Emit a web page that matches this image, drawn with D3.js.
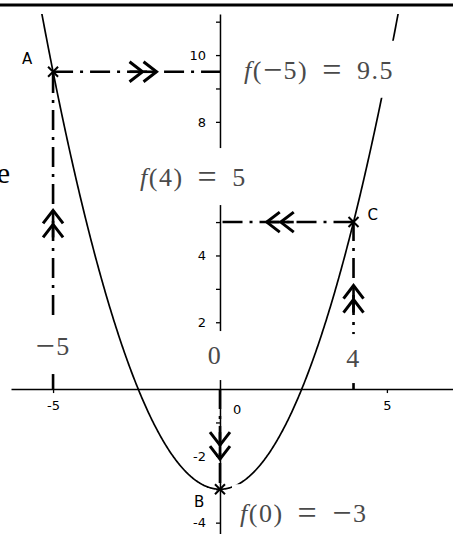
<!DOCTYPE html>
<html>
<head>
<meta charset="utf-8">
<script src="https://cdn.jsdelivr.net/npm/d3@7"></script>
<style>
  html, body { margin: 0; padding: 0; background: #fff; }
  svg { display: block; }
</style>
</head>
<body>
<svg id="chart" width="453" height="534"></svg>
<script>
// --- values ---
const pointNames = ["A", "B", "C"];
const pointX     = [-5, 0, 4];
const pointY     = [9.5, -3, 5];
const curveCoef  = [0.5, 0, -3];              // f(x) = a x² + b x + c
const xTickVals  = [-5, 5];
const yTickVals  = [-4, -3, -2, -1, 1, 2, 3, 4, 5, 6, 7, 8, 9, 10, 11];
const yTickLabels = [-4, -2, 2, 4, 8, 10];
const mathTexts  = ["f(−5) = 9.5", "f(4) = 5", "f(0) = −3", "−5", "0", "4"];

// --- layout ---
const W = 453, H = 534;
const plotLeft = 11, plotTop = 14;
const ink   = "#000";
const grey  = "#4a4a4a";
const sans  = "'DejaVu Sans', Verdana, sans-serif";
const serif = "'Liberation Serif', 'Times New Roman', serif";

const svg = d3.select("#chart");

const x = d3.scaleLinear().domain([-6.26, 6.98]).range([plotLeft, W]);
const y = d3.scaleLinear().domain([-4.34, 11.23]).range([H, plotTop]);

// frame line along the top
svg.append("line")
    .attr("x1", 0).attr("x2", W)
    .attr("y1", 5).attr("y2", 5)
    .attr("stroke", ink).attr("stroke-width", 3);

// cut-off word at the left edge
svg.append("text")
    .attr("x", 10).attr("y", 183)
    .attr("text-anchor", "end")
    .style("font-family", serif)
    .style("font-size", "30px")
    .style("fill", ink)
    .text("e");

svg.append("clipPath").attr("id", "plot-clip")
  .append("rect")
    .attr("x", plotLeft).attr("y", plotTop)
    .attr("width", W - plotLeft).attr("height", H - plotTop);

const plot = svg.append("g").attr("clip-path", "url(#plot-clip)");

// --- the parabola ---
const f = t => curveCoef[0] * t * t + curveCoef[1] * t + curveCoef[2];
const samples = d3.range(x.domain()[0], x.domain()[1] + 0.01, 0.02);

plot.append("path")
    .datum(samples)
    .attr("fill", "none")
    .attr("stroke", ink)
    .attr("stroke-width", 1.7)
    .attr("d", d3.line().x(d => x(d)).y(d => y(f(d))));

// --- dash-dot guides with double chevrons ---
const guides = plot.append("g");
const points = pointNames.map((n, i) => ({ name: n, x: pointX[i], y: pointY[i] }));

function chevrons(g, x1, y1, x2, y2) {
    const len = Math.hypot(x2 - x1, y2 - y1);
    if (len < 1) return;
    const ux = (x2 - x1) / len, uy = (y2 - y1) / len;   // direction
    const nx = -uy, ny = ux;                             // normal
    const mx = (x1 + x2) / 2, my = (y1 + y2) / 2;
    const depth = 13, half = 10;
    [6, 20].forEach(off => {
        const tx = mx + ux * off, ty = my + uy * off;
        const bx = tx - ux * depth, by = ty - uy * depth;
        g.append("path")
            .attr("d", `M${bx + nx * half},${by + ny * half}L${tx},${ty}L${bx - nx * half},${by - ny * half}`)
            .attr("fill", "none")
            .attr("stroke", ink)
            .attr("stroke-width", 3);
        // solid stem through the chevron
        g.append("line")
            .attr("x1", bx).attr("y1", by).attr("x2", tx).attr("y2", ty)
            .attr("stroke", ink).attr("stroke-width", 2.6);
    });
}

points.forEach(p => {
    const segs = [
        [x(p.x), y(0), x(p.x), y(p.y)],   // from the x-axis to the point
        [x(p.x), y(p.y), x(0), y(p.y)]    // from the point to the y-axis
    ];
    segs.forEach(s => {
        if (Math.hypot(s[2] - s[0], s[3] - s[1]) < 1) return;
        guides.append("line")
            .attr("x1", s[0]).attr("y1", s[1])
            .attr("x2", s[2]).attr("y2", s[3])
            .attr("stroke", ink)
            .attr("stroke-width", 2.6)
            .attr("stroke-dasharray", "20,7,3,7");
        chevrons(guides, ...s);
    });
});

// --- axes ---
const xAxis = svg.append("g")
    .attr("transform", `translate(0,${y(0)})`)
    .call(d3.axisBottom(x)
        .tickValues(xTickVals)
        .tickSize(4)
        .tickSizeOuter(0)
        .tickPadding(8)
        .tickFormat(d => String(d)));

const yAxis = svg.append("g")
    .attr("transform", `translate(${x(0)},0)`)
    .call(d3.axisLeft(y)
        .tickValues(yTickVals)
        .tickSize(4)
        .tickSizeOuter(0)
        .tickPadding(10)
        .tickFormat(d => yTickLabels.includes(d) ? String(d) : ""));

[xAxis, yAxis].forEach(a => {
    a.attr("font-family", null).attr("font-size", null);
    a.select(".domain").attr("stroke", ink).attr("stroke-width", 1.5);
    a.selectAll(".tick line").attr("stroke", ink).attr("stroke-width", 1.3);
    a.selectAll(".tick text")
        .style("font-family", sans)
        .style("font-size", "13px")
        .style("fill", ink);
});

// origin label sits right of the y-axis
svg.append("text")
    .attr("x", x(0) + 13).attr("y", y(0) + 25)
    .style("font-family", sans)
    .style("font-size", "13px")
    .style("fill", ink)
    .text("0");

// --- TeX-like value labels on white boxes ---
const mathPlacement = [
    { px: x(0) + 24,  py: y(9.5) + 7,  anchor: "start"  },
    { px: x(0) - 80,  py: y(5) - 36,   anchor: "start"  },
    { px: x(0) + 20,  py: y(-3) + 33,  anchor: "start"  },
    { px: x(-5),      py: y(0) - 34,   anchor: "middle" },
    { px: x(0) - 5,   py: y(0) - 25,   anchor: "middle" },
    { px: x(4),       py: y(0) - 22,   anchor: "middle" }
];

// one glyph per tspan so "=" and "−" can be drawn wider
function mathText(t, str) {
    let lift = 0;
    for (const ch of str) {
        if (ch === " ") { t.append("tspan").text(" "); continue; }
        const s = t.append("tspan").text(ch);
        if (ch === "f") s.style("font-style", "italic");
        if (ch === "=" || ch === "−") {
            s.style("font-size", "34px").attr("dy", 2 - lift);
            lift = 2;
        } else if (lift) {
            s.attr("dy", -lift);
            lift = 0;
        }
    }
}

const labelLayer = svg.append("g");
mathTexts.forEach((txt, i) => {
    const pos = mathPlacement[i];
    const g = labelLayer.append("g");
    const box = g.append("rect").attr("fill", "#fff");
    const t = g.append("text")
        .attr("x", pos.px).attr("y", pos.py)
        .attr("text-anchor", pos.anchor)
        .style("font-family", serif)
        .style("font-size", "26px")
        .style("letter-spacing", "1.5px")
        .style("word-spacing", "6px")
        .style("white-space", "pre")
        .style("fill", grey);
    mathText(t, txt);
    const bb = t.node().getBBox();
    box.attr("x", bb.x - 8).attr("y", bb.y - 10)
       .attr("width", bb.width + 16).attr("height", bb.height + 20);
});

// --- point markers and names ---
const nameOffset = { A: [-31, -8], B: [-26, 18], C: [14, -2] };

const marks = svg.append("g");
points.forEach(p => {
    const cx = x(p.x), cy = y(p.y), s = 5;
    marks.append("path")
        .attr("d", `M${cx - s},${cy - s}L${cx + s},${cy + s}M${cx - s},${cy + s}L${cx + s},${cy - s}`)
        .attr("stroke", ink)
        .attr("stroke-width", 2);
    marks.append("text")
        .attr("x", cx + nameOffset[p.name][0])
        .attr("y", cy + nameOffset[p.name][1])
        .style("font-family", sans)
        .style("font-size", "15px")
        .style("fill", ink)
        .text(p.name);
});
</script>
</body>
</html>
